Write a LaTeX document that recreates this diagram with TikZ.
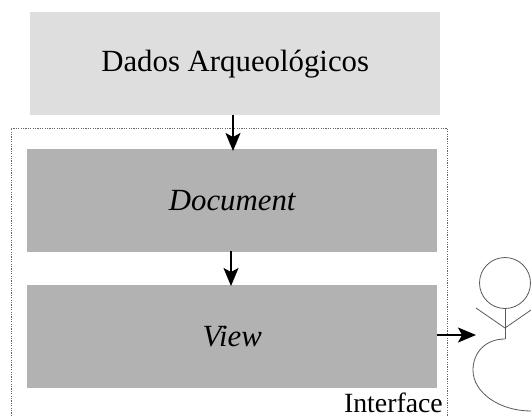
\documentclass[tikz,border=0pt]{standalone}
\usepackage{fontspec}
\setmainfont{Liberation Serif}
\usetikzlibrary{arrows.meta}
\tikzset{
  x=1pt,y=-1pt,
  lightbox/.style={fill=black!13,draw=none,minimum width=410pt,minimum height=103pt,inner sep=0pt,anchor=north west,font=\fontsize{30.8}{34}\selectfont},
  darkbox/.style={fill=black!30,draw=none,minimum width=410pt,minimum height=103pt,inner sep=0pt,anchor=north west,font=\fontsize{30.8}{34}\selectfont\itshape},
  flow/.style={draw=black,line width=1.6pt,-{Stealth[length=18pt,width=15pt,inset=4pt]}},
  figure line/.style={draw=black!65,line width=0.8pt},
}
\begin{document}
\begin{tikzpicture}
\useasboundingbox (0,0) rectangle (531,416);
\draw[black!60,dash pattern=on 1.2pt off 1.2pt,line width=0.7pt] (11,416) -- (11,128) -- (447,128) -- (447,416);
\node[lightbox] (data) at (30,12) {Dados Arqueológicos};
\node[darkbox] (doc) at (27,149) {Document};
\node[darkbox] (view) at (27,285) {View};
\node[anchor=base east,inner sep=0pt,font=\fontsize{27.8}{30}\selectfont] (iface) at (443,412) {Interface};
\coordinate (a1) at (233,115);
\coordinate (a2) at (233,151);
\coordinate (b1) at (231,251);
\coordinate (b2) at (231,286);
\coordinate (c1) at (437,335);
\coordinate (c2) at (476,335);
\draw[flow] (a1) -- (a2);
\draw[flow] (b1) -- (b2);
\draw[flow] (c1) -- (c2);
\node[circle,figure line,minimum size=51pt,inner sep=0pt] (head) at (505,283) {};
\coordinate (neck) at (505,328);
\coordinate (hip) at (505,339);
\coordinate (armL) at (476,308);
\coordinate (armR) at (531,310);
\draw[figure line] (head.south) -- (hip);
\draw[figure line] (armL) -- (neck) -- (armR);
\draw[figure line] (hip) .. controls (485,339) and (473,353) .. (473,370) .. controls (473,393) and (500,411) .. (531,411);
\end{tikzpicture}
\end{document}
